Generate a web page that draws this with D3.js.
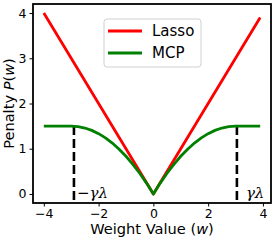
<!DOCTYPE html>
<html><head><meta charset="utf-8">
<script src="https://cdn.jsdelivr.net/npm/d3@7"></script>
<style>body{margin:0;background:#fff}svg{display:block}</style>
</head><body>
<svg id="c" width="276" height="241"></svg>
<script>
const lassoW = [-4, 0, 3.9];
const lassoP = [4, 0, 3.9];
const mcpW = [-4,-3.75,-3.5,-3.25,-3,-2.75,-2.5,-2.25,-2,-1.75,-1.5,-1.25,-1,-0.75,-0.5,-0.25,0,0.25,0.5,0.75,1,1.25,1.5,1.75,2,2.25,2.5,2.75,3,3.25,3.5,3.75,3.9];
const mcpP = [1.5,1.5,1.5,1.5,1.5,1.49,1.458,1.406,1.333,1.24,1.125,0.99,0.833,0.656,0.458,0.24,0,0.24,0.458,0.656,0.833,0.99,1.125,1.24,1.333,1.406,1.458,1.49,1.5,1.5,1.5,1.5,1.5];
const gammaLambda = [-2.9, 3.05];
const plateau = 1.5;
const xTicks = [-4,-2,0,2,4];
const yTicks = [0,1,2,3,4];
const seriesNames = ["Lasso","MCP"];
const seriesColors = ["#ff0000","#008000"];

const svg = d3.select("#c");
const L=33, R=271, T=4, B=203;
const x = d3.scaleLinear().domain([-4.395, 4.295]).range([L, R]);
const y = d3.scaleLinear().domain([-0.2, 4.2]).range([B, T]);
const font = "DejaVu Sans";

// dashed lines
svg.selectAll("line.gl").data(gammaLambda).enter().append("line")
  .attr("x1", d=>x(d)).attr("x2", d=>x(d))
  .attr("y1", y(plateau)).attr("y2", y(-0.2))
  .attr("stroke","#000").attr("stroke-width",2.6).attr("stroke-dasharray","9,4");

const line = d3.line().x(d=>x(d[0])).y(d=>y(d[1]));
const lassoData = lassoW.map((w,i)=>[w,lassoP[i]]);
const mcpData = mcpW.map((w,i)=>[w,mcpP[i]]);
svg.append("path").datum(lassoData).attr("d",line).attr("fill","none")
  .attr("stroke",seriesColors[0]).attr("stroke-width",2.8).attr("stroke-linejoin","round");
svg.append("path").datum(mcpData).attr("d",line).attr("fill","none")
  .attr("stroke",seriesColors[1]).attr("stroke-width",2.8).attr("stroke-linejoin","round");

// annotations
const t1 = svg.append("text").attr("x", x(gammaLambda[0])+3).attr("y", 198).attr("font-size",15);
t1.append("tspan").attr("font-family",font).text("\u2212");
t1.append("tspan").attr("font-family","DejaVu Serif").attr("font-style","italic").text("γλ");
svg.append("text").attr("x", x(gammaLambda[1])+9).attr("y", 198).attr("font-size",15)
  .attr("font-family","DejaVu Serif").attr("font-style","italic").text("γλ");

// axes
const xa = svg.append("g").attr("transform",`translate(0,${B})`)
  .call(d3.axisBottom(x).tickValues(xTicks).tickFormat(d3.format("d")).tickSize(3.5).tickSizeOuter(0).tickPadding(3));
const ya = svg.append("g").attr("transform",`translate(${L},0)`)
  .call(d3.axisLeft(y).tickValues(yTicks).tickFormat(d3.format("d")).tickSize(3.5).tickSizeOuter(0).tickPadding(3));
[xa,ya].forEach(g=>{
  g.select(".domain").remove();
  g.selectAll("line").attr("stroke","#000").attr("stroke-width",1);
  g.selectAll("text").attr("font-family",font).attr("font-size",12.5).attr("fill","#000");
});
// spines
svg.append("rect").attr("x",L).attr("y",T).attr("width",R-L).attr("height",B-T)
  .attr("fill","none").attr("stroke","#000").attr("stroke-width",1.8);

// axis labels
const xl = svg.append("text").attr("x",(L+R)/2).attr("y",234).attr("text-anchor","middle")
  .attr("font-family",font).attr("font-size",14.6).attr("fill","#000");
xl.append("tspan").text("Weight Value (");
xl.append("tspan").attr("font-style","italic").text("w");
xl.append("tspan").text(")");
const yl = svg.append("text").attr("transform",`translate(14,${(T+B)/2}) rotate(-90)`)
  .attr("text-anchor","middle").attr("font-family",font).attr("font-size",14.6).attr("fill","#000");
yl.append("tspan").text("Penalty  ");
yl.append("tspan").attr("font-style","italic").text("P");
yl.append("tspan").text("(");
yl.append("tspan").attr("font-style","italic").text("w");
yl.append("tspan").text(")");

// legend
const lg = svg.append("g");
lg.append("rect").attr("x",104).attr("y",19).attr("width",97).attr("height",48).attr("rx",3)
  .attr("fill","#fff").attr("fill-opacity",0.8).attr("stroke","#d0d0d0").attr("stroke-width",1);
seriesNames.forEach((n,i)=>{
  const yy = 31 + i*22;
  lg.append("line").attr("x1",108).attr("x2",142).attr("y1",yy).attr("y2",yy)
    .attr("stroke",seriesColors[i]).attr("stroke-width",2.8);
  lg.append("text").attr("x",152).attr("y",yy).attr("dy","0.36em")
    .attr("font-family",font).attr("font-size",15).attr("fill","#000").text(n);
});
</script>
</body></html>
